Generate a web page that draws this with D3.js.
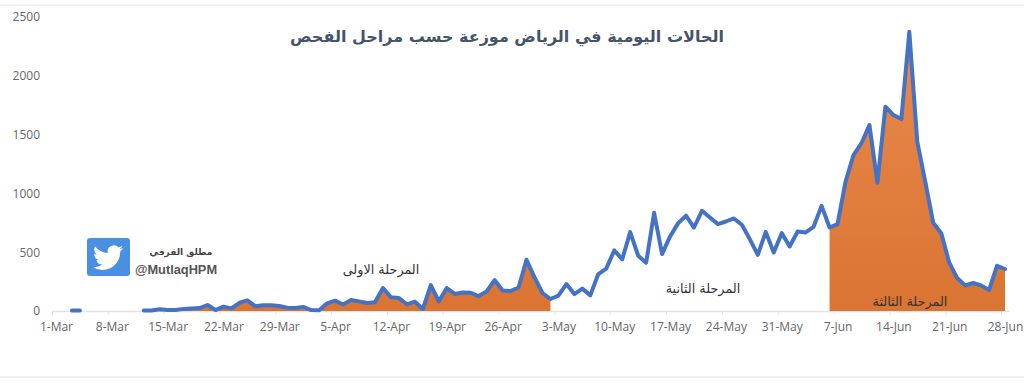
<!DOCTYPE html>
<html>
<head>
<meta charset="utf-8">
<script src="https://cdnjs.cloudflare.com/ajax/libs/d3/7.8.5/d3.min.js"></script>
<style>
  html, body { margin: 0; padding: 0; background: #fff; }
  svg { display: block; }
  .axis text { font-family: "Open Sans", sans-serif; font-size: 12px; fill: #666; }
  .note { font-family: "DejaVu Sans", sans-serif; font-size: 12.8px; fill: #333; text-anchor: middle; }
</style>
</head>
<body>
<div id="chart"></div>
<script>
var w = 1024, h = 386

// daily cases, 1-Mar to 28-Jun (null = nothing reported)
var dailyCases = [
  null, null, 5, 5, null, null, null, null, null, null, null,
  4, 5, 15, 9, 8, 18, 22, 25, 51, 8, 37, 22, 70, 90, 40, 48, 48, 42, 28, 25, 35, 8, 6,
  65, 88, 55, 93, 82, 68, 74, 195, 116, 110, 57, 80, 17, 220, 82, 195, 145, 158, 155, 127, 167, 263, 175, 170, 200, 436, 286, 153, 102,
  130, 229, 144, 190, 133, 314, 360, 515, 439, 671, 470, 410, 835, 484, 634, 745, 810, 710, 852, 795, 739, 761, 787, 733, 611, 478, 673, 498, 662, 549, 676, 668, 716, 894,
  710, 739, 1099, 1326, 1427, 1581, 1090, 1737, 1666, 1632, 2374, 1439, 1099, 750, 662, 413, 280, 218, 238, 218, 178, 385, 357
]
var tickLabels = ['1-Mar', '8-Mar', '15-Mar', '22-Mar', '29-Mar', '5-Apr', '12-Apr', '19-Apr', '26-Apr',
  '3-May', '10-May', '17-May', '24-May', '31-May', '7-Jun', '14-Jun', '21-Jun', '28-Jun']
var yTicks = [0, 500, 1000, 1500, 2000, 2500]
// first and last day index of the two filled phases
var filledPhases = [[0, 62], [97, 119]]

var titleText = 'الحالات اليومية في الرياض موزعة حسب مراحل الفحص'
var phaseNames = ['المرحلة الاولى', 'المرحلة الثانية', 'المرحلة الثالثة']
var authorName = 'مطلق القرفي'
var authorHandle = '@MutlaqHPM'

var svg = d3.select('#chart').append('svg')
  .attr('width', w)
  .attr('height', h)

// Scales
var x = d3.scaleLinear().domain([-0.5, 119.5]).range([52, 1009])
var y = d3.scaleLinear().domain([0, 2500]).range([311, 17])

var defs = svg.append('defs')
var grad = defs.append('linearGradient')
  .attr('id', 'fillGrad')
  .attr('gradientUnits', 'userSpaceOnUse')
  .attr('x1', 0).attr('x2', 0)
  .attr('y1', y(2400)).attr('y2', y(0))
grad.append('stop').attr('offset', 0).attr('stop-color', '#ea8a4c')
grad.append('stop').attr('offset', 1).attr('stop-color', '#da7433')

// page rules
svg.append('line').attr('x1', 0).attr('x2', w).attr('y1', 5).attr('y2', 5).attr('stroke', '#ececec').attr('stroke-width', 1.5)
svg.append('line').attr('x1', 0).attr('x2', w).attr('y1', 377).attr('y2', 377).attr('stroke', '#ececec').attr('stroke-width', 1.5)

// Axes
var xAxis = d3.axisBottom(x)
  .tickValues(d3.range(0, 120, 7))
  .tickFormat(function (d) { return tickLabels[d / 7] })
  .tickSize(4)
  .tickSizeOuter(0)
var yAxis = d3.axisLeft(y)
  .tickValues(yTicks)
  .tickFormat(d3.format('d'))
  .tickSize(0)

var gx = svg.append('g')
  .attr('class', 'axis')
  .attr('transform', 'translate(0,' + y(0) + ')')
  .call(xAxis)
gx.select('.domain').attr('stroke', '#e2e2e2').attr('stroke-width', 1.5)
gx.selectAll('.tick line').attr('stroke', '#e2e2e2')
  .attr('transform', 'translate(' + (x(-0.5) - x(0)) + ',0)')
gx.selectAll('.tick text').attr('y', 11)

var gy = svg.append('g')
  .attr('class', 'axis')
  .attr('transform', 'translate(40,0)')
  .call(yAxis)
gy.select('.domain').remove()
gy.selectAll('.tick text').attr('x', 0)

// Filled phases
var area = d3.area()
  .defined(function (d) { return d.v != null })
  .x(function (d) { return x(d.i) })
  .y0(y(0))
  .y1(function (d) { return y(d.v) })

var points = dailyCases.map(function (v, i) { return { i: i, v: v } })

svg.selectAll('.phase')
  .data(filledPhases)
  .enter()
  .append('path')
  .attr('class', 'phase')
  .attr('fill', 'url(#fillGrad)')
  .attr('d', function (d) { return area(points.slice(d[0], d[1] + 1)) })

// Line
var valueLine = d3.line()
  .defined(function (d) { return d.v != null })
  .x(function (d) { return x(d.i) })
  .y(function (d) { return y(d.v) })

svg.append('path')
  .attr('fill', 'none')
  .attr('stroke', '#4472c4')
  .attr('stroke-width', 4)
  .attr('stroke-linejoin', 'round')
  .attr('stroke-linecap', 'round')
  .attr('d', valueLine(points))

// Title
svg.append('text')
  .attr('x', 507)
  .attr('y', 42)
  .attr('text-anchor', 'middle')
  .style('font-family', '"DejaVu Sans", sans-serif')
  .style('font-size', '16px')
  .style('font-weight', 'bold')
  .style('fill', '#44546a')
  .text(titleText)

// Phase labels
svg.append('text').attr('class', 'note').attr('x', 381).attr('y', 274).text(phaseNames[0])
svg.append('text').attr('class', 'note').attr('x', 703).attr('y', 293).text(phaseNames[1])
svg.append('text').attr('class', 'note').attr('x', 910).attr('y', 306).text(phaseNames[2])

// Twitter badge
svg.append('rect')
  .attr('x', 87).attr('y', 238)
  .attr('width', 43).attr('height', 38)
  .attr('rx', 3)
  .attr('fill', '#4a90e2')
svg.append('path')
  .attr('transform', 'translate(93,242.5) scale(1.26)')
  .attr('fill', '#fff')
  .attr('d', 'M23.953 4.57a10 10 0 01-2.825.775 4.958 4.958 0 002.163-2.723c-.951.555-2.005.959-3.127 1.184a4.92 4.92 0 00-8.384 4.482C7.69 8.095 4.067 6.13 1.64 3.162a4.822 4.822 0 00-.666 2.475c0 1.71.87 3.213 2.188 4.096a4.904 4.904 0 01-2.228-.616v.06a4.923 4.923 0 003.946 4.827 4.996 4.996 0 01-2.212.085 4.936 4.936 0 004.604 3.417 9.867 9.867 0 01-6.102 2.105c-.39 0-.779-.023-1.17-.067a13.995 13.995 0 007.557 2.209c9.053 0 13.998-7.496 13.998-13.985 0-.21 0-.42-.015-.63A9.935 9.935 0 0024 4.59z')

svg.append('text')
  .attr('x', 181).attr('y', 255)
  .attr('text-anchor', 'middle')
  .style('font-family', '"DejaVu Sans", sans-serif')
  .style('font-size', '9px')
  .style('font-weight', 'bold')
  .style('fill', '#444')
  .text(authorName)
svg.append('text')
  .attr('x', 176).attr('y', 274)
  .attr('text-anchor', 'middle')
  .style('font-family', '"Liberation Sans", sans-serif')
  .style('font-size', '12.8px')
  .style('font-weight', 'bold')
  .style('fill', '#555')
  .text(authorHandle)
</script>
</body>
</html>
